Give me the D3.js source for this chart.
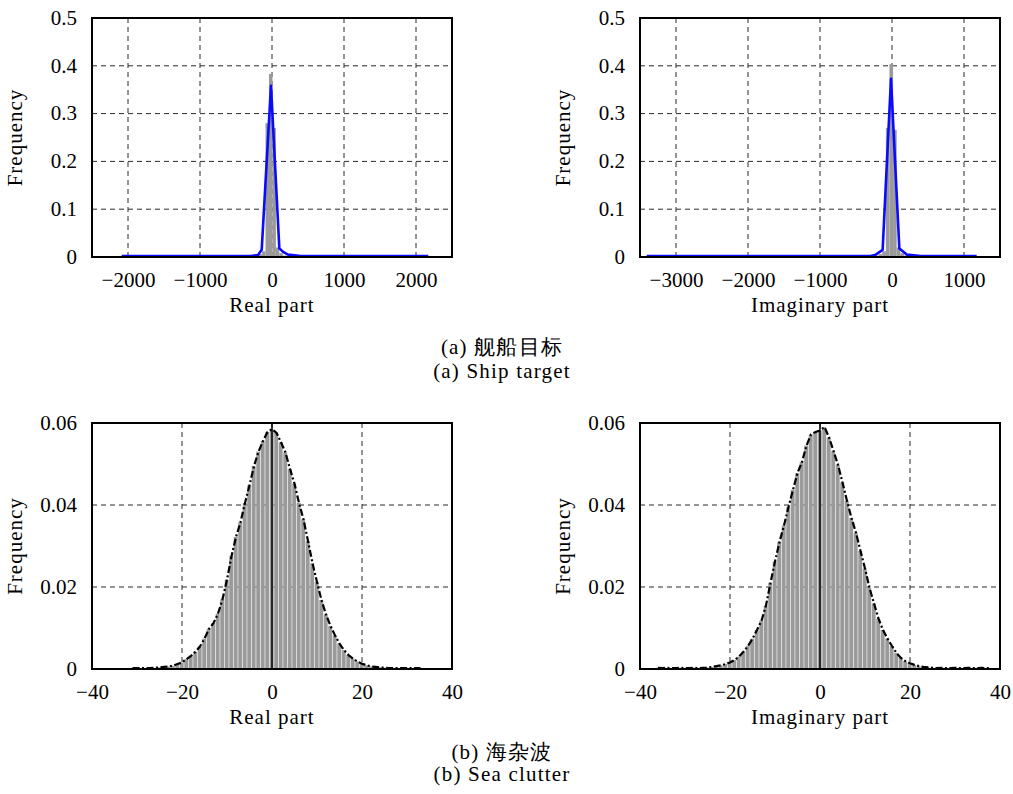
<!DOCTYPE html>
<html>
<head>
<meta charset="utf-8">
<script src="https://cdn.jsdelivr.net/npm/d3@7"></script>
<style>
  body { margin: 0; background: #fff; }
  svg { display: block; }
</style>
</head>
<body>
<div id="chart"></div>
<script>
// ---- (a) ship target: histogram bins (centre, frequency) and fitted curve ----
const shipRealBinX = [-210, -162, -114, -66, -18, 30, 78, 126, 174];
const shipRealBinF = [0.003, 0.006, 0.012, 0.28, 0.383, 0.27, 0.02, 0.008, 0.003];
const shipRealLineX = [-2088, -1500, -1000, -500, -300, -194, -143, -14, 102, 160, 222, 400, 1000, 1500, 2171];
const shipRealLineY = [0.002, 0.002, 0.002, 0.002, 0.002, 0.004, 0.015, 0.358, 0.018, 0.01, 0.005, 0.002, 0.002, 0.002, 0.002];

const shipImagBinX = [-210, -160, -110, -60, -10, 40, 90, 140, 190];
const shipImagBinF = [0.003, 0.006, 0.012, 0.27, 0.404, 0.266, 0.02, 0.008, 0.003];
const shipImagLineX = [-3407, -2500, -1500, -500, -300, -236, -130, -14, 102, 150, 204, 400, 800, 1176];
const shipImagLineY = [0.002, 0.002, 0.002, 0.002, 0.002, 0.004, 0.015, 0.373, 0.018, 0.012, 0.005, 0.002, 0.002, 0.002];

// ---- (b) sea clutter: unit-width bins ----
const clutterRealX = [-31, -30, -29, -28, -27, -26, -25, -24, -23, -22, -21, -20, -19, -18, -17, -16, -15, -14, -13, -12, -11, -10, -9, -8, -7, -6, -5, -4, -3, -2, -1, 0, 1, 2, 3, 4, 5, 6, 7, 8, 9, 10, 11, 12, 13, 14, 15, 16, 17, 18, 19, 20, 21, 22, 23, 24, 25, 26, 27, 28, 29, 30, 31, 32, 33];
const clutterRealF = [0.0002, 0.0002, 0.0002, 0.0002, 0.0002, 0.0003, 0.0004, 0.0005, 0.0006, 0.0008, 0.0012, 0.0016, 0.0024, 0.0032, 0.0042, 0.0055, 0.0074, 0.0098, 0.0112, 0.0135, 0.017, 0.0218, 0.0275, 0.0322, 0.0358, 0.0405, 0.0448, 0.0495, 0.053, 0.0556, 0.0578, 0.0585, 0.0576, 0.0553, 0.0528, 0.0488, 0.0452, 0.0405, 0.0365, 0.0312, 0.0258, 0.0212, 0.0168, 0.0133, 0.0105, 0.0082, 0.0062, 0.0046, 0.0034, 0.0025, 0.0018, 0.0013, 0.0009, 0.0006, 0.0005, 0.0004, 0.0003, 0.0002, 0.0002, 0.0002, 0.0002, 0.0002, 0.0002, 0.0002, 0.0002];

const clutterImagX = [-36, -35, -34, -33, -32, -31, -30, -29, -28, -27, -26, -25, -24, -23, -22, -21, -20, -19, -18, -17, -16, -15, -14, -13, -12, -11, -10, -9, -8, -7, -6, -5, -4, -3, -2, -1, 0, 1, 2, 3, 4, 5, 6, 7, 8, 9, 10, 11, 12, 13, 14, 15, 16, 17, 18, 19, 20, 21, 22, 23, 24, 25, 26, 27, 28, 29, 30, 31, 32, 33, 34, 35, 36, 37, 38];
const clutterImagF = [0.0003, 0.0002, 0.0003, 0.0002, 0.0002, 0.0003, 0.0002, 0.0002, 0.0003, 0.0002, 0.0003, 0.0003, 0.0005, 0.0007, 0.0009, 0.0012, 0.0016, 0.0022, 0.003, 0.0042, 0.0056, 0.0074, 0.0095, 0.0118, 0.0155, 0.021, 0.0262, 0.031, 0.035, 0.0395, 0.0437, 0.0478, 0.0505, 0.0545, 0.0572, 0.0578, 0.0582, 0.059, 0.0565, 0.0532, 0.0498, 0.0455, 0.041, 0.0368, 0.0332, 0.0288, 0.0245, 0.0198, 0.016, 0.0123, 0.0095, 0.0074, 0.0056, 0.0039, 0.0027, 0.0019, 0.0014, 0.001, 0.0007, 0.0005, 0.0004, 0.0003, 0.0002, 0.0003, 0.0002, 0.0002, 0.0003, 0.0002, 0.0002, 0.0003, 0.0002, 0.0002, 0.0003, 0.0002, 0.0002];

// ---- axes ----
const shipYTicks = [0, 0.1, 0.2, 0.3, 0.4, 0.5];
const shipYLabels = ["0", "0.1", "0.2", "0.3", "0.4", "0.5"];
const shipRealXTicks = [-2000, -1000, 0, 1000, 2000];
const shipImagXTicks = [-3000, -2000, -1000, 0, 1000];
const clutterYTicks = [0, 0.02, 0.04, 0.06];
const clutterYLabels = ["0", "0.02", "0.04", "0.06"];
const clutterXTicks = [-40, -20, 0, 20, 40];

const captions = [
  ["(a) 舰船目标", "(a) Ship target"],
  ["(b) 海杂波", "(b) Sea clutter"]
];

const width = 1013, height = 794;
const serif = "Liberation Serif";

const svg = d3.select("#chart").append("svg")
  .attr("width", width).attr("height", height)
  .attr("font-family", serif);

const fmtMinus = (v) => String(v).replace("-", "\u2212");

function panel(cfg) {
  const w = 360, h = cfg.h;
  const g = svg.append("g").attr("transform", `translate(${cfg.left},${cfg.top})`);
  const x = d3.scaleLinear().domain(cfg.xDomain).range([0, w]);
  const y = d3.scaleLinear().domain(cfg.yDomain).range([h, 0]);

  // dashed grid
  const grid = g.append("g").attr("stroke", "#2a2a2a").attr("stroke-width", 1)
    .attr("stroke-dasharray", cfg.dash).attr("fill", "none");
  grid.selectAll("line.v").data(cfg.xTicks.filter(t => t > cfg.xDomain[0] && t < cfg.xDomain[1]))
    .join("line").attr("class", "v")
    .attr("x1", d => x(d)).attr("x2", d => x(d)).attr("y1", 0).attr("y2", h);
  grid.selectAll("line.h").data(cfg.yTicks.filter(t => t > cfg.yDomain[0] && t < cfg.yDomain[1]))
    .join("line").attr("class", "h")
    .attr("x1", 0).attr("x2", w).attr("y1", d => y(d)).attr("y2", d => y(d));

  // histogram bars
  const bw = cfg.binWidth;
  const bars = cfg.binX.map((c, i) => ({ c, f: cfg.binF[i] }));
  g.append("g").selectAll("rect").data(bars).join("rect")
    .attr("x", d => x(d.c - bw / 2))
    .attr("width", d => Math.max(0.5, x(d.c + bw / 2) - x(d.c - bw / 2) - cfg.gap))
    .attr("y", d => y(d.f))
    .attr("height", d => h - y(d.f))
    .attr("fill", "#9a9a9a");

  if (cfg.zeroLine) {
    g.append("line").attr("x1", x(0)).attr("x2", x(0)).attr("y1", 0).attr("y2", h)
      .attr("stroke", "#000").attr("stroke-width", 1.5);
  }

  // curve
  const pts = cfg.lineX.map((v, i) => [v, cfg.lineY[i]]);
  g.append("path").datum(pts)
    .attr("d", d3.line().x(d => x(d[0])).y(d => y(d[1])))
    .attr("fill", "none")
    .attr("stroke", cfg.lineColor)
    .attr("stroke-width", cfg.lineWidth)
    .attr("stroke-linejoin", "round")
    .attr("stroke-dasharray", cfg.lineDash || null);

  // frame
  g.append("rect").attr("width", w).attr("height", h)
    .attr("fill", "none").attr("stroke", "#000").attr("stroke-width", 2);

  // x axis labels
  const xAxis = d3.axisBottom(x).tickValues(cfg.xTicks).tickSize(0).tickPadding(0).tickFormat(fmtMinus);
  const gx = g.append("g").attr("transform", `translate(0,${h})`).call(xAxis);
  gx.select(".domain").remove();
  gx.attr("font-family", serif).attr("font-size", 21);
  gx.selectAll("text").attr("dy", null).attr("y", 30).attr("fill", "#000");

  // y axis labels
  const yAxis = d3.axisLeft(y).tickValues(cfg.yTicks).tickSize(0).tickPadding(15)
    .tickFormat((d, i) => cfg.yLabels[i]);
  const gy = g.append("g").call(yAxis);
  gy.select(".domain").remove();
  gy.attr("font-family", serif).attr("font-size", 21);
  gy.selectAll("text").attr("dy", "0.3em").attr("fill", "#000");

  // titles
  g.append("text").attr("x", w / 2).attr("y", h + 55)
    .attr("text-anchor", "middle").attr("font-size", 21).attr("letter-spacing", 1)
    .text(cfg.xTitle);
  g.append("text").attr("transform", `translate(-70,${h / 2}) rotate(-90)`)
    .attr("text-anchor", "middle").attr("font-size", 21).attr("letter-spacing", 1)
    .text("Frequency");
}

const topRow = { top: 18, h: 239 };
const botRow = { top: 423, h: 246 };

panel({
  left: 92, ...topRow, xDomain: [-2500, 2500], yDomain: [0, 0.5],
  xTicks: shipRealXTicks, yTicks: shipYTicks, yLabels: shipYLabels,
  binX: shipRealBinX, binF: shipRealBinF, binWidth: 48, gap: 0,
  lineX: shipRealLineX, lineY: shipRealLineY, lineColor: "#0a0aff", lineWidth: 2.6,
  dash: "5,4", xTitle: "Real part"
});
panel({
  left: 640, ...topRow, xDomain: [-3500, 1500], yDomain: [0, 0.5],
  xTicks: shipImagXTicks, yTicks: shipYTicks, yLabels: shipYLabels,
  binX: shipImagBinX, binF: shipImagBinF, binWidth: 50, gap: 0,
  lineX: shipImagLineX, lineY: shipImagLineY, lineColor: "#0a0aff", lineWidth: 2.6,
  dash: "5,4", xTitle: "Imaginary part"
});
panel({
  left: 92, ...botRow, xDomain: [-40, 40], yDomain: [0, 0.06],
  xTicks: clutterXTicks, yTicks: clutterYTicks, yLabels: clutterYLabels,
  binX: clutterRealX, binF: clutterRealF, binWidth: 1, gap: 0.6,
  lineX: clutterRealX, lineY: clutterRealF, lineColor: "#000", lineWidth: 2.2,
  lineDash: "7,2.5,2,2.5", dash: "5,4", xTitle: "Real part", zeroLine: true
});
panel({
  left: 640, ...botRow, xDomain: [-40, 40], yDomain: [0, 0.06],
  xTicks: clutterXTicks, yTicks: clutterYTicks, yLabels: clutterYLabels,
  binX: clutterImagX, binF: clutterImagF, binWidth: 1, gap: 0.6,
  lineX: clutterImagX, lineY: clutterImagF, lineColor: "#000", lineWidth: 2.2,
  lineDash: "7,2.5,2,2.5", dash: "5,4", xTitle: "Imaginary part", zeroLine: true
});

// captions
const capY = [[354, 378], [759, 781]];
captions.forEach((pair, i) => {
  pair.forEach((t, j) => {
    svg.append("text").attr("x", 502).attr("y", capY[i][j])
      .attr("text-anchor", "middle")
      .attr("font-size", 21).attr("letter-spacing", 1.2)
      .text(t);
  });
});
</script>
</body>
</html>
